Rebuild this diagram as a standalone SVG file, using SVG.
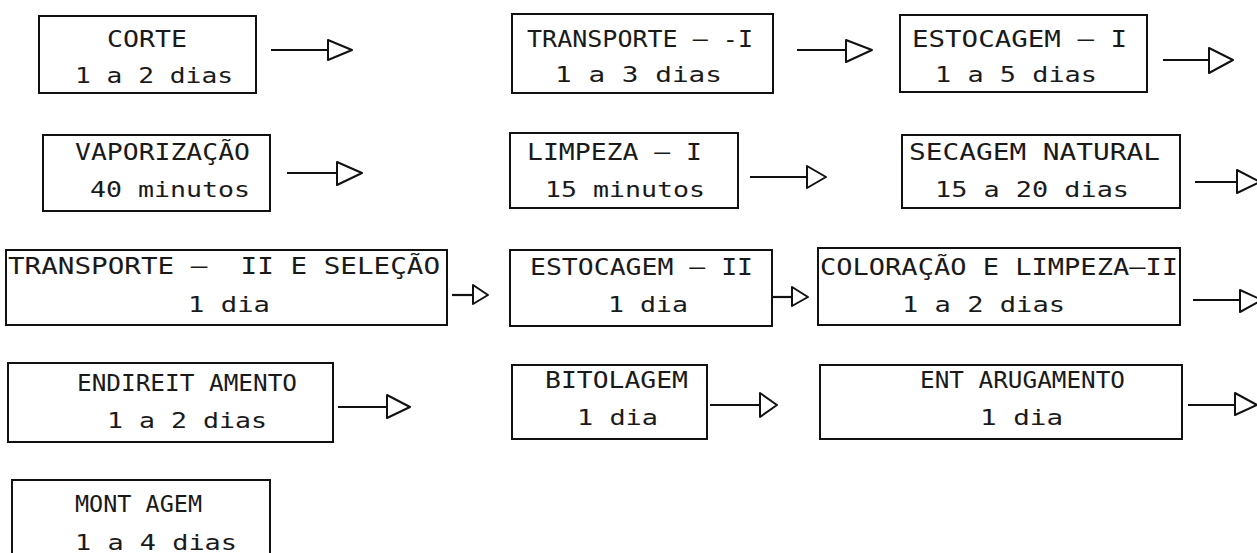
<svg xmlns="http://www.w3.org/2000/svg" width="1257" height="553" viewBox="0 0 1257 553">
<style>
.box{fill:#fff;stroke:#111;stroke-width:2}
.t{font-family:"DejaVu Sans Mono","Liberation Mono",monospace;fill:#1a1a1a;white-space:pre}
.u{font-size:23px}
.l{font-size:22px}
.ln{stroke:#111;stroke-width:2.2;fill:none}
.hd{fill:#fff;stroke:#111;stroke-width:2;stroke-linejoin:round}
</style>
<rect width="1257" height="553" fill="#fff"/>
<g id="corte"><rect class="box" x="39" y="16" width="217" height="77"/>
<text class="t u" x="107" y="47" textLength="80" lengthAdjust="spacingAndGlyphs">CORTE</text>
<text class="t l" x="75" y="83" textLength="158" lengthAdjust="spacingAndGlyphs">1 a 2 dias</text></g>
<g id="transporte1"><rect class="box" x="512" y="14" width="261" height="79"/>
<text class="t u" x="527" y="47" textLength="226" lengthAdjust="spacingAndGlyphs">TRANSPORTE – -I</text>
<text class="t l" x="555" y="82" textLength="167" lengthAdjust="spacingAndGlyphs">1 a 3 dias</text></g>
<g id="estocagem1"><rect class="box" x="900" y="15" width="247" height="77"/>
<text class="t u" x="912" y="47" textLength="215" lengthAdjust="spacingAndGlyphs">ESTOCAGEM – I</text>
<text class="t l" x="935" y="82" textLength="162" lengthAdjust="spacingAndGlyphs">1 a 5 dias</text></g>
<g id="vaporizacao"><rect class="box" x="43" y="135" width="227" height="76"/>
<text class="t u" x="75" y="160" textLength="175" lengthAdjust="spacingAndGlyphs">VAPORIZAÇÃO</text>
<text class="t l" x="90" y="197" textLength="160" lengthAdjust="spacingAndGlyphs">40 minutos</text></g>
<g id="limpeza1"><rect class="box" x="510" y="133" width="228" height="75"/>
<text class="t u" x="527" y="160" textLength="175" lengthAdjust="spacingAndGlyphs">LIMPEZA – I</text>
<text class="t l" x="545" y="197" textLength="160" lengthAdjust="spacingAndGlyphs">15 minutos</text></g>
<g id="secagem"><rect class="box" x="902" y="135" width="278" height="73"/>
<text class="t u" x="909" y="160" textLength="251" lengthAdjust="spacingAndGlyphs">SECAGEM NATURAL</text>
<text class="t l" x="935" y="197" textLength="194" lengthAdjust="spacingAndGlyphs">15 a 20 dias</text></g>
<g id="transporte2"><rect class="box" x="6" y="250" width="441" height="75"/>
<text class="t u" x="8" y="274" textLength="432" lengthAdjust="spacingAndGlyphs">TRANSPORTE –  II E SELEÇÃO</text>
<text class="t l" x="188" y="312" textLength="82" lengthAdjust="spacingAndGlyphs">1 dia</text></g>
<g id="estocagem2"><rect class="box" x="510" y="250" width="262" height="76"/>
<text class="t u" x="530" y="275" textLength="223" lengthAdjust="spacingAndGlyphs">ESTOCAGEM – II</text>
<text class="t l" x="608" y="312" textLength="80" lengthAdjust="spacingAndGlyphs">1 dia</text></g>
<g id="coloracao"><rect class="box" x="818" y="248" width="362" height="77"/>
<text class="t u" x="820" y="275" textLength="358" lengthAdjust="spacingAndGlyphs">COLORAÇÃO E LIMPEZA–II</text>
<text class="t l" x="902" y="312" textLength="163" lengthAdjust="spacingAndGlyphs">1 a 2 dias</text></g>
<g id="endireitamento"><rect class="box" x="8" y="363" width="325" height="79"/>
<text class="t u" x="77" y="391" textLength="220" lengthAdjust="spacingAndGlyphs">ENDIREIT AMENTO</text>
<text class="t l" x="107" y="428" textLength="160" lengthAdjust="spacingAndGlyphs">1 a 2 dias</text></g>
<g id="bitolagem"><rect class="box" x="512" y="365" width="195" height="74"/>
<text class="t u" x="545" y="388" textLength="143" lengthAdjust="spacingAndGlyphs">BITOLAGEM</text>
<text class="t l" x="577" y="425" textLength="81" lengthAdjust="spacingAndGlyphs">1 dia</text></g>
<g id="entarugamento"><rect class="box" x="820" y="365" width="362" height="74"/>
<text class="t u" x="920" y="388" textLength="205" lengthAdjust="spacingAndGlyphs">ENT ARUGAMENTO</text>
<text class="t l" x="980" y="425" textLength="83" lengthAdjust="spacingAndGlyphs">1 dia</text></g>
<g id="montagem"><rect class="box" x="12" y="480" width="258" height="90"/>
<text class="t u" x="75" y="512" textLength="127" lengthAdjust="spacingAndGlyphs">MONT AGEM</text>
<text class="t l" x="75" y="550" textLength="162" lengthAdjust="spacingAndGlyphs">1 a 4 dias</text></g>
<g id="connectors">
<line class="ln" x1="271" y1="50" x2="328" y2="50"/><polygon class="hd" points="328,40 352,50 328,60"/>
<line class="ln" x1="797" y1="50" x2="846" y2="50"/><polygon class="hd" points="846,40 872,50 846,62"/>
<line class="ln" x1="1163" y1="60" x2="1209" y2="60"/><polygon class="hd" points="1209,48 1233,60 1209,73"/>
<line class="ln" x1="287" y1="173" x2="337" y2="173"/><polygon class="hd" points="337,162 362,173 337,185"/>
<line class="ln" x1="750" y1="177" x2="807" y2="177"/><polygon class="hd" points="807,166 826,177 807,188"/>
<line class="ln" x1="1195" y1="182" x2="1237" y2="182"/><polygon class="hd" points="1237,170 1260,182 1237,193"/>
<line class="ln" x1="452" y1="295" x2="473" y2="295"/><polygon class="hd" points="473,285 488,295 473,304"/>
<line class="ln" x1="773" y1="297" x2="792" y2="297"/><polygon class="hd" points="792,287 808,297 792,306"/>
<line class="ln" x1="1193" y1="300" x2="1240" y2="300"/><polygon class="hd" points="1240,290 1262,300 1240,312"/>
<line class="ln" x1="338" y1="407" x2="387" y2="407"/><polygon class="hd" points="387,395 410,407 387,418"/>
<line class="ln" x1="710" y1="405" x2="760" y2="405"/><polygon class="hd" points="760,393 777,405 760,417"/>
<line class="ln" x1="1188" y1="405" x2="1235" y2="405"/><polygon class="hd" points="1235,393 1257,405 1235,415"/>
</g>
</svg>
